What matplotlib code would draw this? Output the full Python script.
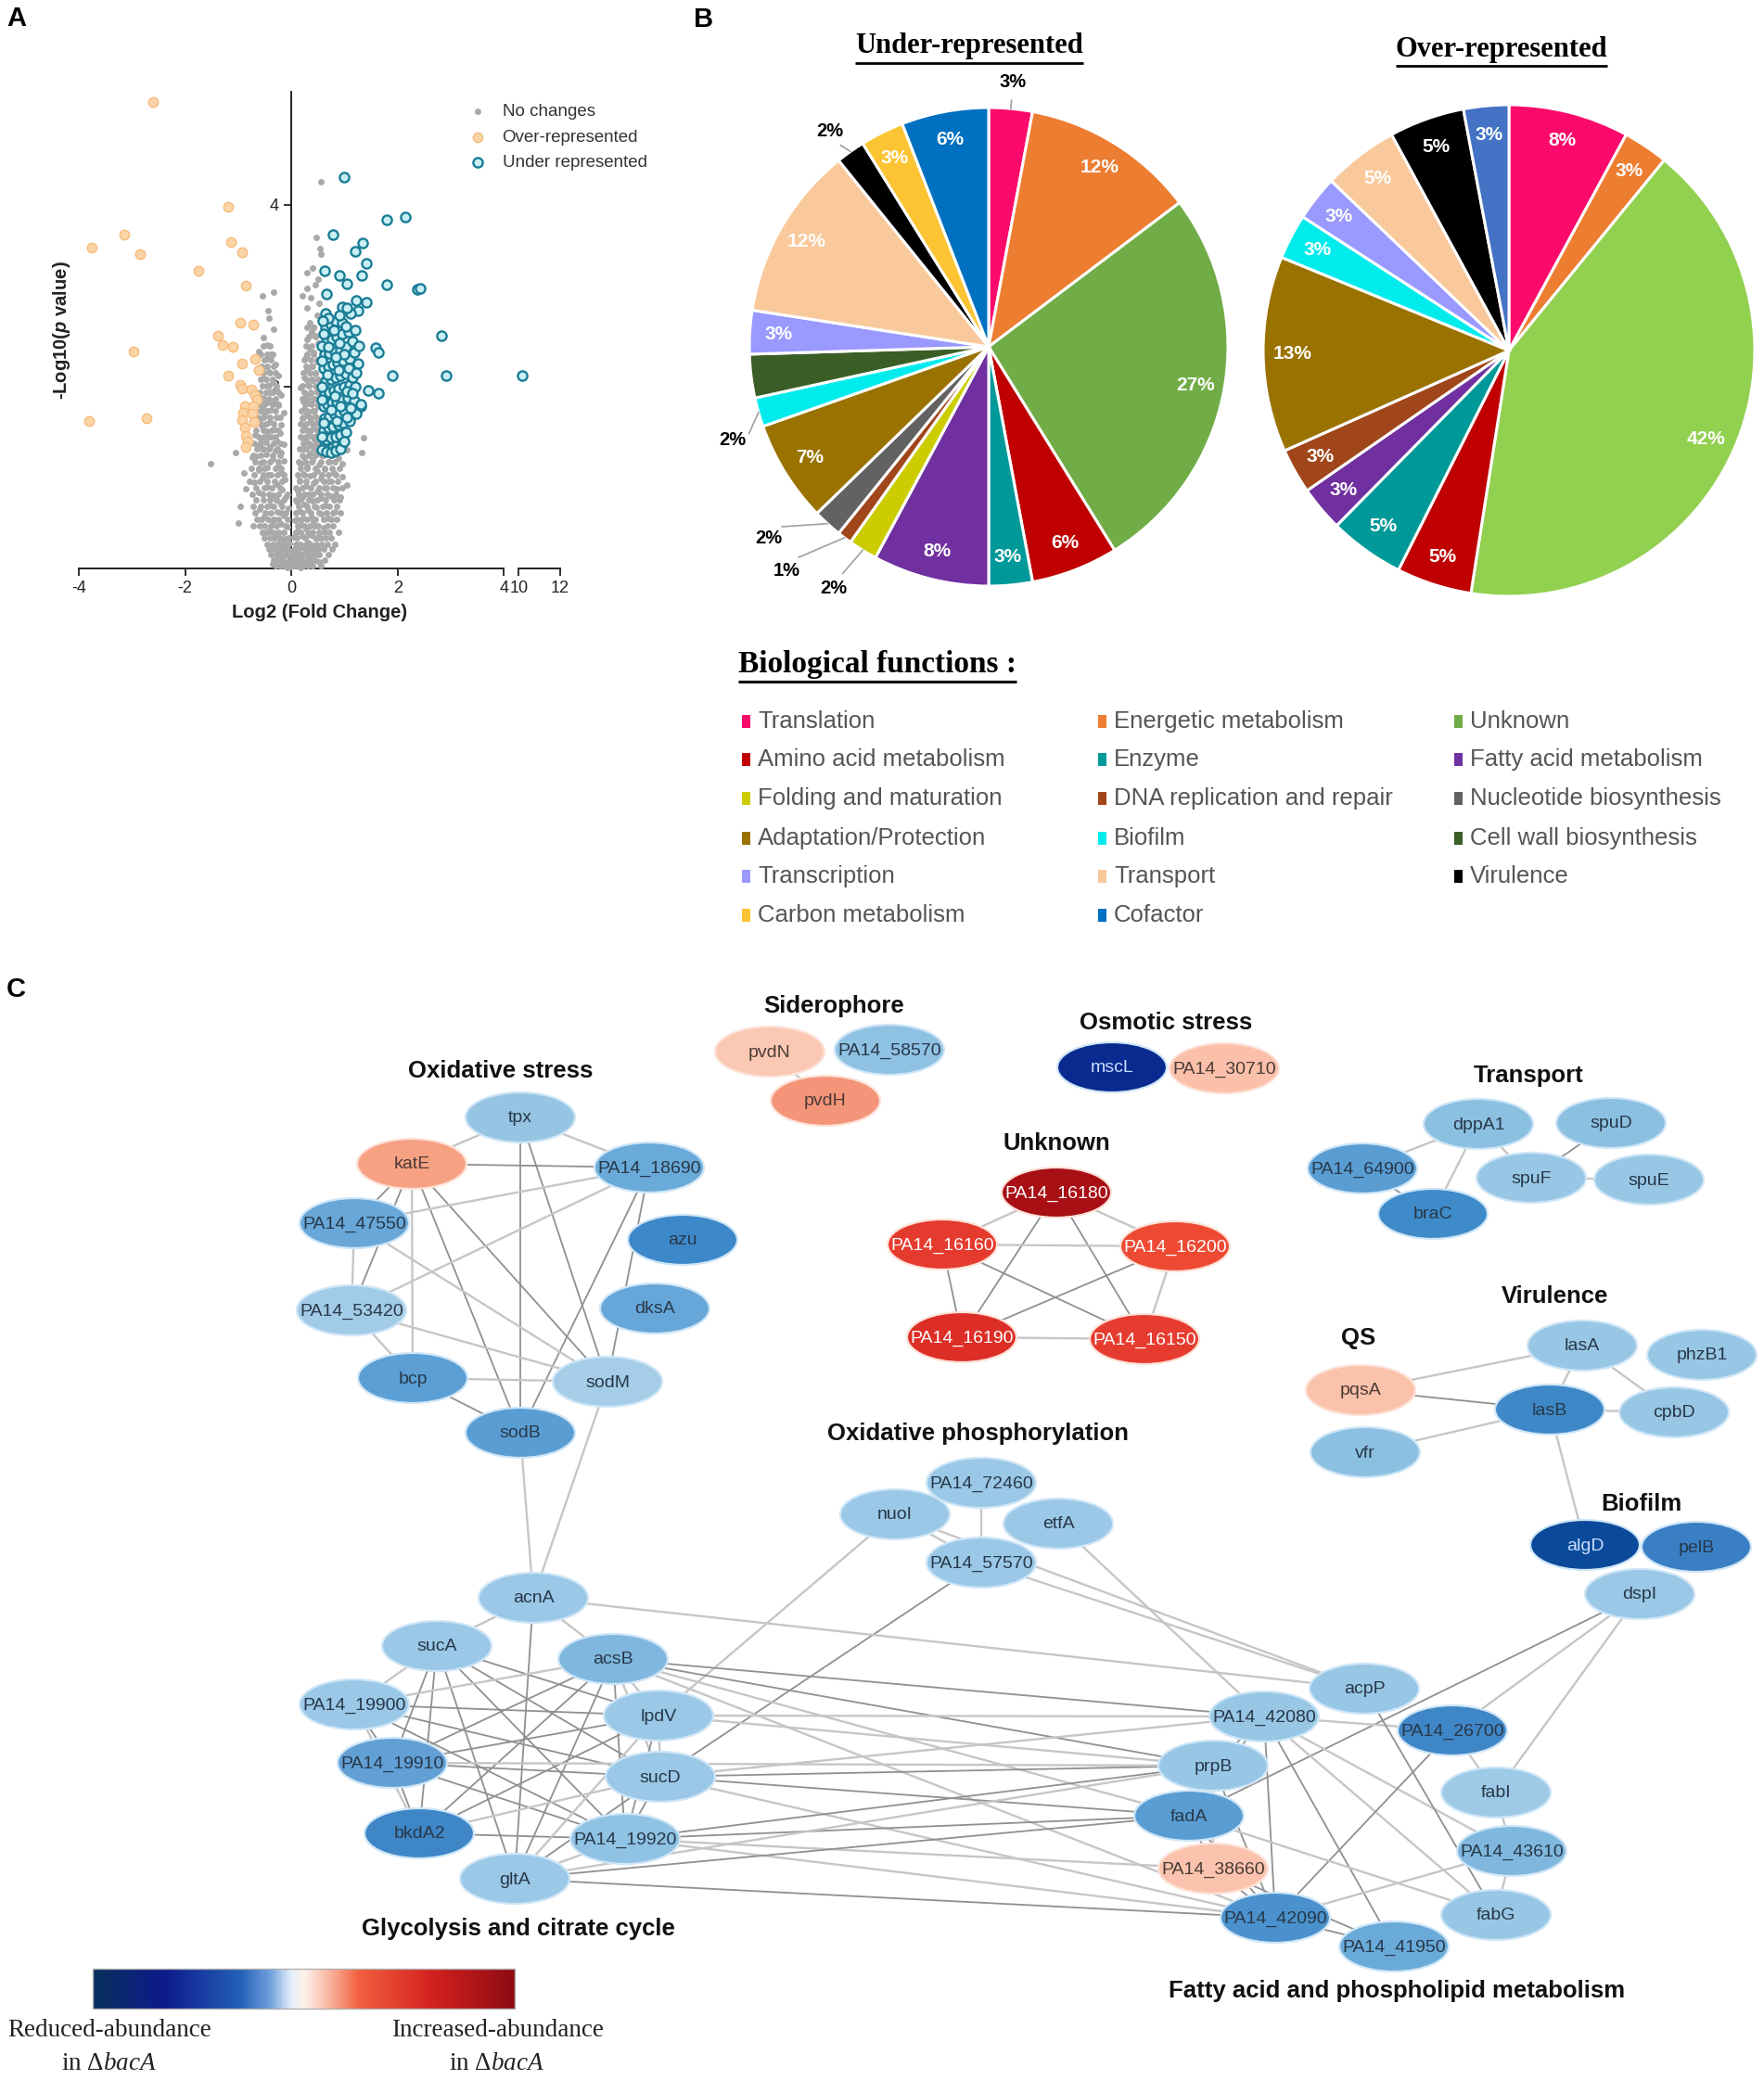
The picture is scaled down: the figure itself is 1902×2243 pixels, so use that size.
import numpy as np
import matplotlib
matplotlib.use('Agg')
import matplotlib.pyplot as plt
from matplotlib.patches import Ellipse, Rectangle
from matplotlib.colors import LinearSegmentedColormap
import matplotlib.colorbar as mcolorbar

plt.rcParams['font.family'] = ['Liberation Sans', 'DejaVu Sans']
plt.rcParams['mathtext.fontset'] = 'custom'
plt.rcParams['mathtext.it'] = 'Liberation Serif:italic'
plt.rcParams['mathtext.rm'] = 'Liberation Serif'
plt.rcParams['mathtext.sf'] = 'Liberation Sans:italic:bold'

# ---------------------------------------------------------------- data
# Panel A : volcano plot (log2 fold change, -log10 p)
gray_pts = [
    (-0.02,0.02),(0.04,0.03),(0.12,0.05),(-0.10,0.06),(0.20,0.04),(-0.18,0.09),(0.28,0.08),(0.07,0.11),
    (-0.06,0.14),(0.16,0.15),(-0.25,0.16),(0.34,0.13),(0.02,0.19),(-0.14,0.21),(0.24,0.22),(0.40,0.20),
    (-0.30,0.24),(0.10,0.26),(-0.04,0.28),(0.31,0.29),(0.47,0.18),(-0.36,0.05),(0.52,0.07),(0.18,0.01),
    (-0.22,0.30),(0.08,0.08),(-0.08,0.01),(0.26,0.17),(-0.12,0.26),(0.36,0.05),
    (-0.12,0.33),(0.05,0.35),(0.20,0.36),(0.36,0.37),(-0.28,0.39),(0.50,0.34),(-0.42,0.42),(0.12,0.42),
    (0.28,0.44),(-0.08,0.46),(0.44,0.47),(-0.20,0.49),(0.60,0.45),(-0.35,0.52),(0.07,0.53),(0.22,0.55),
    (0.38,0.56),(-0.50,0.57),(-0.15,0.58),(0.55,0.60),(0.70,0.55),(-0.27,0.62),(0.15,0.63),(0.31,0.64),
    (-0.60,0.65),(0.47,0.67),(-0.05,0.66),(-0.40,0.69),(0.64,0.69),(0.25,0.70),(-0.97,0.68),(-1.00,0.50),
    (0.82,0.62),(-0.72,0.47),(-0.32,0.34),(0.42,0.52),(-0.55,0.40),(0.18,0.48),
    (-0.22,0.72),(0.10,0.73),(0.40,0.74),(-0.52,0.75),(0.56,0.77),(-0.10,0.78),(0.20,0.79),(0.74,0.80),
    (-0.35,0.81),(0.33,0.82),(-0.62,0.84),(0.48,0.85),(0.12,0.86),(-0.18,0.87),(0.86,0.88),(0.62,0.89),
    (-0.45,0.90),(0.27,0.91),(-0.28,0.93),(0.42,0.94),(-0.70,0.95),(0.70,0.96),(0.15,0.97),(-0.12,0.98),
    (0.55,0.99),(-0.55,1.00),(0.95,1.01),(0.35,1.02),(-0.38,1.03),(0.22,1.04),(0.80,1.05),(-0.20,1.06),
    (0.48,1.07),(-0.62,1.08),(0.63,1.09),(1.05,0.92),(-0.85,0.88),(-0.90,1.05),(0.92,0.78),
    (-0.45,1.11),(0.30,1.12),(-0.25,1.13),(0.52,1.14),(0.18,1.15),(-0.58,1.16),(0.72,1.17),(-0.15,1.18),
    (0.40,1.19),(-0.35,1.20),(0.88,1.21),(0.25,1.22),(-0.66,1.23),(0.58,1.24),(-0.48,1.25),(0.35,1.26),
    (-0.20,1.27),(0.78,1.28),(-0.30,1.29),(0.45,1.30),(-0.55,1.31),(0.22,1.32),(0.65,1.33),(-0.40,1.34),
    (0.38,1.35),(-0.62,1.36),(-0.15,1.37),(0.52,1.38),(-0.48,1.39),(0.28,1.40),(-0.28,1.41),(0.44,1.42),
    (-0.58,1.43),(0.20,1.44),(-0.38,1.45),(0.35,1.46),(-0.68,1.47),(0.50,1.48),(-0.22,1.49),(1.33,1.27),
    (1.36,1.44),(-1.52,1.15),(-1.05,1.27),(-0.74,1.22),(1.05,1.30),(0.95,1.15),
    (-0.45,1.51),(0.30,1.52),(-0.32,1.53),(0.42,1.55),(-0.55,1.56),(0.24,1.57),(-0.20,1.58),(0.48,1.60),
    (-0.40,1.61),(0.36,1.62),(-0.60,1.63),(0.20,1.65),(-0.28,1.66),(0.45,1.67),(-0.50,1.69),(0.30,1.70),
    (-0.15,1.71),(0.40,1.73),(-0.38,1.74),(0.25,1.75),(-0.55,1.77),(0.50,1.78),(-0.25,1.79),(0.33,1.81),
    (-0.45,1.82),(0.22,1.84),(-0.33,1.85),(0.42,1.87),(-0.52,1.88),(0.28,1.90),(-0.20,1.91),(0.36,1.93),
    (-0.40,1.94),(0.48,1.96),(-0.28,1.97),(0.18,1.99),
    (-0.45,2.01),(0.32,2.02),(-0.35,2.05),(0.40,2.07),(-0.52,2.09),(0.25,2.10),(-0.25,2.12),(0.45,2.14),
    (-0.42,2.16),(0.30,2.18),(-0.55,2.20),(0.38,2.22),(-0.30,2.24),(0.48,2.27),(-0.48,2.30),(0.28,2.32),
    (-0.38,2.35),(0.42,2.38),(-0.62,2.39),(0.35,2.42),(-0.45,2.46),(0.50,2.48),(0.30,2.52),(0.45,2.56),
    (-0.52,2.54),(0.38,2.60),
    (-0.33,2.63),(0.42,2.65),(-0.42,2.75),(0.35,2.70),(0.48,2.78),(-0.44,2.83),(0.30,2.86),(0.52,2.92),
    (-0.33,3.04),(0.30,3.08),(0.45,3.12),(0.30,3.25),(0.40,3.30),(0.56,3.46),(0.54,3.52),(0.47,3.64),
    (0.56,4.25),(0.36,2.98),(0.50,3.18),(-0.55,3.00),(0.20,3.00),
]
# further rows of the dense grey cloud: (-log10 p, [log2 fold changes])
gray_rows = [
    (0.03, [-0.30,-0.21,-0.14,-0.07,0.01,0.09,0.16,0.23,0.31,0.40,0.55]),
    (0.09, [-0.34,-0.24,-0.16,-0.03,0.05,0.13,0.21,0.29,0.37,0.46,0.62]),
    (0.15, [-0.38,-0.29,-0.20,-0.11,0.02,0.10,0.19,0.27,0.35,0.44,0.53,0.70]),
    (0.21, [-0.42,-0.33,-0.23,-0.08,0.06,0.14,0.32,0.41,0.50,0.60,0.76]),
    (0.27, [-0.45,-0.36,-0.27,-0.17,0.08,0.18,0.27,0.37,0.47,0.57,0.68,0.82]),
    (0.34, [-0.50,-0.40,-0.31,-0.21,-0.05,0.10,0.26,0.45,0.55,0.65,0.75]),
    (0.40, [-0.55,-0.46,-0.35,-0.24,-0.15,0.08,0.17,0.31,0.40,0.52,0.62,0.72,0.88]),
    (0.47, [-0.60,-0.50,-0.39,-0.29,-0.11,0.12,0.24,0.35,0.50,0.68,0.79]),
    (0.54, [-0.64,-0.56,-0.44,-0.33,-0.24,-0.08,0.10,0.19,0.30,0.46,0.60,0.75,0.85]),
    (0.61, [-0.68,-0.49,-0.38,-0.20,-0.10,0.08,0.21,0.37,0.52,0.66,0.78,0.92]),
    (0.68, [-0.72,-0.58,-0.46,-0.33,-0.17,0.13,0.29,0.44,0.59,0.71,0.86]),
    (0.75, [-0.66,-0.40,-0.28,-0.14,0.08,0.17,0.33,0.48,0.64,0.80,0.90]),
    (0.82, [-0.74,-0.55,-0.42,-0.25,-0.08,0.14,0.24,0.40,0.56,0.68,0.83]),
    (0.89, [-0.66,-0.51,-0.37,-0.22,0.09,0.21,0.36,0.52,0.66,0.78,0.95]),
    (0.96, [-0.78,-0.60,-0.46,-0.32,-0.17,0.15,0.28,0.45,0.60,0.74,0.87]),
    (1.03, [-0.70,-0.53,-0.44,-0.26,-0.14,0.12,0.25,0.41,0.57,0.70,0.84]),
    (1.10, [-0.75,-0.62,-0.50,-0.30,-0.19,0.18,0.30,0.46,0.62,0.77,0.91]),
    (1.17, [-0.68,-0.53,-0.41,-0.25,0.14,0.26,0.38,0.55,0.69,0.82]),
    (1.24, [-0.72,-0.58,-0.36,-0.22,0.20,0.33,0.46,0.61,0.74]),
    (1.31, [-0.64,-0.52,-0.43,-0.26,0.16,0.28,0.42,0.55,0.68]),
    (1.38, [-0.70,-0.57,-0.33,-0.21,0.22,0.33,0.47,0.60]),
    (1.45, [-0.62,-0.50,-0.44,-0.30,0.18,0.27,0.42,0.55]),
    (1.52, [-0.66,-0.53,-0.37,-0.24,0.21,0.36,0.48]),
    (1.59, [-0.58,-0.47,-0.33,0.17,0.27,0.40,0.53]),
    (1.66, [-0.63,-0.52,-0.41,-0.22,0.23,0.35,0.47]),
    (1.73, [-0.57,-0.46,-0.30,0.19,0.30,0.43]),
    (1.80, [-0.61,-0.50,-0.36,-0.24,0.26,0.38,0.50]),
    (1.87, [-0.55,-0.43,-0.30,0.20,0.31,0.44]),
    (1.94, [-0.60,-0.48,-0.35,-0.25,0.24,0.36,0.48]),
    (2.01, [-0.54,-0.42,-0.29,0.21,0.33,0.45]),
    (2.08, [-0.58,-0.47,-0.36,0.27,0.39,0.50]),
    (2.15, [-0.52,-0.40,-0.30,0.22,0.34,0.46]),
    (2.22, [-0.56,-0.45,-0.34,0.28,0.40]),
    (2.29, [-0.50,-0.39,0.24,0.36,0.48]),
    (2.36, [-0.58,-0.46,-0.35,0.30,0.42]),
    (2.45, [-0.52,-0.40,0.27,0.38]),
    (2.55, [0.33,0.45]),
    (2.65, [0.29,0.41]),
]
over_pts = [
    (-2.60,5.13),(-1.19,3.98),(-3.15,3.67),(-3.75,3.53),(-2.84,3.46),(-1.13,3.59),(-0.92,3.48),(-1.75,3.27),
    (-0.85,3.11),(-0.97,2.70),(-0.72,2.68),(-1.39,2.56),(-1.30,2.46),(-1.11,2.44),(-2.97,2.39),(-0.68,2.30),
    (-0.92,2.25),(-0.62,2.18),(-1.19,2.12),(-0.97,2.02),(-0.93,1.98),(-0.76,1.97),(-0.68,1.91),(-0.65,1.86),
    (-0.88,1.78),(-0.72,1.78),(-0.91,1.71),(-0.73,1.70),(-0.92,1.63),(-0.70,1.61),(-0.87,1.55),(-0.85,1.46),
    (-0.82,1.40),(-0.85,1.34),(-3.80,1.62),(-2.73,1.65),
]
under_pts = [
    (0.99,4.30),(2.14,3.86),(1.80,3.83),(0.79,3.67),(1.34,3.58),(1.20,3.49),(1.41,3.35),(0.63,3.27),
    (0.91,3.22),(1.33,3.22),(1.04,3.13),(1.80,3.12),(2.37,3.07),(2.43,3.08),(0.66,3.02),(1.22,2.95),
    (1.41,2.93),(0.95,2.87),(1.26,2.83),(2.83,2.56),(1.59,2.43),(1.63,2.38),(1.90,2.12),(2.91,2.12),
    (10.17,2.12),(1.63,1.93),(1.44,1.96),(1.31,1.78),
    (0.62,1.35),(0.70,1.32),(0.78,1.34),(0.86,1.36),(0.95,1.38),(0.66,1.42),(0.74,1.44),(0.83,1.45),
    (0.92,1.47),(1.02,1.50),(0.60,1.52),(0.69,1.55),(0.78,1.56),(0.88,1.58),(0.97,1.60),(1.10,1.62),
    (0.63,1.65),(0.72,1.67),(0.81,1.69),(0.90,1.71),(1.00,1.73),(0.60,1.78),(0.68,1.80),(0.77,1.82),
    (0.86,1.84),(0.95,1.86),(1.06,1.88),(1.18,1.85),(0.62,1.92),(0.71,1.94),(0.80,1.96),(0.89,1.98),
    (0.99,2.00),(1.10,2.02),(0.65,2.06),(0.74,2.08),(0.84,2.10),(0.93,2.12),(1.03,2.14),(1.15,2.10),
    (0.60,2.20),(0.69,2.22),(0.78,2.24),(0.87,2.26),(0.97,2.28),(1.10,2.30),(0.63,2.35),(0.72,2.37),
    (0.82,2.39),(0.92,2.41),(1.02,2.44),(0.66,2.50),(0.76,2.52),(0.86,2.55),(0.96,2.58),(1.08,2.60),
    (0.64,2.65),(0.74,2.68),(0.84,2.72),(0.96,2.70),(0.65,2.80),(1.12,2.80),(1.20,2.00),(1.25,2.25),
    (1.30,1.80),(1.22,1.70),(0.58,1.45),(0.58,2.00),(0.58,2.45),(1.00,2.35),(1.15,2.50),
    (0.57,1.30),(0.66,1.28),(0.75,1.27),(0.84,1.29),(0.92,1.31),(1.00,1.40),(0.61,1.60),(0.85,1.62),
    (1.05,1.66),(0.75,1.74),(0.93,1.78),(1.12,1.76),(0.57,1.86),(0.82,1.90),(1.04,1.95),(1.15,1.93),
    (0.67,2.13),(0.88,2.18),(1.08,2.20),(1.22,2.15),(0.58,2.28),(0.83,2.32),(1.18,2.38),(0.70,2.44),
    (0.90,2.48),(1.27,2.45),(0.61,2.58),(0.80,2.62),(1.02,2.66),(1.20,2.62),(0.70,2.75),(0.90,2.78),
    (1.05,2.86),(0.59,2.72),
]
x_ticks = [-4, -2, 0, 2, 4, 10, 12]
x_ticklabels = ['-4', '-2', '0', '2', '4', '10', '12']
y_ticks = [2, 4]

# Panel B : pies
categories = ['Translation', 'Energetic metabolism', 'Unknown', 'Amino acid metabolism', 'Enzyme',
              'Fatty acid metabolism', 'Folding and maturation', 'DNA replication and repair',
              'Nucleotide biosynthesis', 'Adaptation/Protection', 'Biofilm', 'Cell wall biosynthesis',
              'Transcription', 'Transport', 'Virulence', 'Carbon metabolism', 'Cofactor']
cat_colors = ['#fb0a6b', '#ed7d31', '#70ad47', '#c00000', '#00999a', '#7030a0', '#cccc00', '#a0461a',
              '#626262', '#9a7200', '#00ecec', '#3a5e25', '#9999ff', '#f9c99c', '#000000', '#fcc432', '#0070c0']
under_vals = [3, 12, 27, 6, 3, 8, 2, 1, 2, 7, 2, 3, 3, 12, 2, 3, 6]
under_labels = ['3%', '12%', '27%', '6%', '3%', '8%', '2%', '1%', '2%', '7%', '2%', '', '3%', '12%', '2%', '3%', '6%']
over_cats = ['Translation', 'Energetic metabolism', 'Unknown', 'Amino acid metabolism', 'Enzyme',
             'Fatty acid metabolism', 'DNA replication and repair', 'Adaptation/Protection', 'Biofilm',
             'Transcription', 'Transport', 'Virulence', 'Cofactor']
over_vals = [8, 3, 42, 5, 5, 3, 3, 13, 3, 3, 5, 5, 3]
over_labels = ['8%', '3%', '42%', '5%', '5%', '3%', '3%', '13%', '3%', '3%', '5%', '5%', '3%']
over_color_override = {'Unknown': '#92d050', 'Cofactor': '#4472c4'}

# Panel C : network
node_colors = {
    'tpx': '#96c5e3', 'katE': '#f7a183', 'PA14_18690': '#6aaad9', 'PA14_47550': '#68a7d8', 'azu': '#3d88c8',
    'PA14_53420': '#a2cbe7', 'dksA': '#66a6d8', 'bcp': '#5b9fd5', 'sodM': '#a5cde8', 'sodB': '#5a9dd3',
    'pvdN': '#fbc8b4', 'PA14_58570': '#8fc1e2', 'pvdH': '#f4957a',
    'mscL': '#0a2a90', 'PA14_30710': '#fbc0a9',
    'PA14_16180': '#a81016', 'PA14_16160': '#e53a2e', 'PA14_16200': '#ee4a33', 'PA14_16190': '#dc2e26',
    'PA14_16150': '#e63c2f',
    'dppA1': '#8cc0e1', 'spuD': '#8cc0e1', 'PA14_64900': '#5a9dd3', 'spuF': '#98c7e5', 'spuE': '#98c7e5',
    'braC': '#3f8bca',
    'lasA': '#98c7e5', 'phzB1': '#98c7e5', 'pqsA': '#fbc2ab', 'lasB': '#3f88c8', 'cpbD': '#98c7e5',
    'vfr': '#8cc0e1',
    'PA14_72460': '#9ac8e6', 'nuoI': '#9ac8e6', 'etfA': '#9ac8e6', 'PA14_57570': '#9ac8e6',
    'algD': '#0b4a9a', 'pelB': '#3a7fc4', 'dspI': '#9ac8e6',
    'acnA': '#9ac8e6', 'sucA': '#9ac8e6', 'acsB': '#80b7de', 'PA14_19900': '#9ac8e6', 'lpdV': '#9ac8e6',
    'PA14_19910': '#629fd4', 'sucD': '#9ac8e6', 'bkdA2': '#3e86c6', 'PA14_19920': '#8fc2e3', 'gltA': '#9ac8e6',
    'acpP': '#98c7e5', 'PA14_42080': '#98c7e5', 'PA14_26700': '#3f86c6', 'prpB': '#98c7e5', 'fabI': '#9ecae7',
    'fadA': '#5a9dd3', 'PA14_43610': '#80b7de', 'PA14_38660': '#fbc3ad', 'fabG': '#98c7e5',
    'PA14_42090': '#4a91cd', 'PA14_41950': '#6aaad9',
}
edges = [
    ('tpx','katE',1),('tpx','PA14_18690',1),('tpx','sodB',2),('tpx','sodM',2),
    ('katE','PA14_18690',2),('katE','PA14_47550',2),('katE','PA14_53420',2),('katE','bcp',1),
    ('katE','sodB',2),('katE','sodM',2),
    ('PA14_18690','PA14_47550',1),('PA14_18690','PA14_53420',1),('PA14_18690','sodB',2),('PA14_18690','sodM',2),
    ('PA14_47550','PA14_53420',1),('PA14_47550','sodM',1),('PA14_53420','bcp',1),('PA14_53420','sodM',1),
    ('bcp','sodM',1),('bcp','sodB',2),('sodB','acnA',1),('sodM','acnA',1),
    ('pvdN','pvdH',1),
    ('PA14_16180','PA14_16160',1),('PA14_16180','PA14_16200',1),('PA14_16180','PA14_16190',2),
    ('PA14_16180','PA14_16150',2),('PA14_16160','PA14_16200',1),('PA14_16160','PA14_16190',2),
    ('PA14_16160','PA14_16150',2),('PA14_16200','PA14_16190',2),('PA14_16200','PA14_16150',1),
    ('PA14_16190','PA14_16150',1),
    ('dppA1','PA14_64900',1),('dppA1','braC',1),('dppA1','spuF',1),('spuD','spuF',2),('spuF','spuE',1),
    ('PA14_64900','braC',2),
    ('pqsA','lasA',1),('pqsA','lasB',2),('vfr','lasB',1),('lasA','lasB',1),('lasA','cpbD',1),
    ('lasB','cpbD',1),('lasB','algD',1),
    ('dspI','PA14_26700',1),('dspI','fabI',1),('dspI','fadA',2),
    ('PA14_72460','PA14_57570',1),('nuoI','PA14_57570',1),('nuoI','lpdV',1),('PA14_57570','sucD',2),
    ('nuoI','acpP',1),('PA14_57570','acpP',1),('etfA','PA14_42080',1),('acnA','acpP',1),
    ('acnA','sucA',1),('acnA','acsB',1),('acnA','gltA',2),
    ('sucA','PA14_19900',1),('sucA','PA14_19910',2),('sucA','bkdA2',2),('sucA','gltA',2),('sucA','lpdV',2),
    ('sucA','sucD',2),('sucA','PA14_19920',2),
    ('acsB','PA14_19900',1),('acsB','PA14_19910',2),('acsB','bkdA2',2),('acsB','lpdV',1),('acsB','sucD',1),
    ('acsB','PA14_19920',2),('acsB','gltA',2),
    ('PA14_19900','PA14_19910',2),('PA14_19900','lpdV',2),('PA14_19900','sucD',2),('PA14_19900','PA14_19920',2),
    ('PA14_19900','bkdA2',1),('PA14_19910','bkdA2',2),('PA14_19910','lpdV',2),('PA14_19910','sucD',2),
    ('PA14_19910','PA14_19920',2),('bkdA2','PA14_19920',2),('bkdA2','lpdV',2),('bkdA2','sucD',1),
    ('lpdV','sucD',1),('lpdV','PA14_19920',2),('lpdV','gltA',1),('sucD','PA14_19920',2),('sucD','gltA',2),
    ('PA14_19920','gltA',1),
    ('acsB','PA14_42080',2),('acsB','prpB',2),('acsB','fadA',1),('acsB','PA14_42090',1),
    ('lpdV','PA14_42080',1),('lpdV','prpB',1),
    ('sucD','PA14_42080',1),('sucD','prpB',2),('sucD','fadA',2),('sucD','PA14_42090',1),
    ('PA14_19920','prpB',2),('PA14_19920','fadA',2),('PA14_19920','PA14_42090',1),('PA14_19920','PA14_38660',1),
    ('gltA','fadA',2),('gltA','PA14_42090',2),('gltA','prpB',1),('PA14_19910','prpB',1),
    ('PA14_42080','PA14_26700',1),('PA14_42080','prpB',2),('PA14_42080','fadA',2),('PA14_42080','PA14_42090',2),
    ('PA14_42080','PA14_41950',2),('PA14_42080','PA14_43610',1),('PA14_42080','fabG',1),('acpP','fabG',2),
    ('PA14_26700','fabI',1),('PA14_26700','PA14_42090',2),('fabI','PA14_43610',1),('PA14_43610','fabG',1),
    ('PA14_43610','PA14_42090',1),('prpB','fadA',1),('prpB','PA14_42090',2),('fadA','PA14_38660',2),
    ('fadA','PA14_42090',2),('fadA','fabG',1),('PA14_38660','PA14_42090',2),('PA14_38660','PA14_41950',2),
    ('PA14_42090','PA14_41950',2),('prpB','PA14_38660',1),
]
cbar_stops = [(0.0, '#082f5c'), (0.17, '#0d1a8c'), (0.35, '#2460b8'), (0.42, '#6fa0dc'), (0.47, '#e4eef8'),
              (0.50, '#fff3ec'), (0.56, '#f9b7a0'), (0.63, '#f2603f'), (0.80, '#d4221f'), (1.0, '#8e0a12')]

# ---------------------------------------------------------------- layout
W, H = 1902, 2243
fig = plt.figure(figsize=(W / 100, H / 100), dpi=100)
bg = fig.add_axes([0, 0, 1, 1])
bg.set_xlim(0, W)
bg.set_ylim(H, 0)
bg.axis('off')


def fax(x0, y0, x1, y1):
    a = fig.add_axes([x0 / W, 1 - y1 / H, (x1 - x0) / W, (y1 - y0) / H])
    a.patch.set_alpha(0)
    return a


for s, (px, py) in zip('ABC', [(18, 20), (759, 21), (17, 1067)]):
    bg.text(px, py, s, fontsize=21, fontweight='bold', ha='center', va='center')

# ---------------------------------------------------------------- Panel A
GAP, K = 0.278, 0.391


def fwd(x):
    x = np.asarray(x, float)
    return np.where(x <= 4, x, np.where(x >= 10, 4 + GAP + (x - 10) * K, 4 + (x - 4) / 6 * GAP))


def inv(u):
    u = np.asarray(u, float)
    return np.where(u <= 4, u, np.where(u >= 4 + GAP, 10 + (u - 4 - GAP) / K, 4 + (u - 4) / GAP * 6))


axA = fax(85, 99, 604, 613)
axA.set_xscale('function', functions=(fwd, inv))
gx = [p[0] for p in gray_pts] + [x for y, xs in gray_rows for x in xs]
gy = [p[1] for p in gray_pts] + [y for y, xs in gray_rows for x in xs]
ox, oy = zip(*over_pts)
ux, uy = zip(*under_pts)
axA.scatter(gx, gy, s=25, c='#a9a9a9', linewidths=0, label='No changes', zorder=2, clip_on=False)
axA.scatter(ox, oy, s=56, facecolor='#fbd4a6', edgecolor='#f5bb7e', linewidths=1.0,
            label='Over-represented', zorder=3, clip_on=False)
axA.scatter(ux, uy, s=54, facecolor='#c9eef4', edgecolor='#1a7d96', linewidths=1.7,
            label='Under represented', zorder=4, clip_on=False)
axA.set_xlim(-4, 12)
axA.set_ylim(0, 5.24)
for sp in ['top', 'right', 'bottom']:
    axA.spines[sp].set_visible(False)
axA.spines['left'].set_position(('data', 0))
axA.spines['left'].set_linewidth(1.4)
axA.spines['left'].set_color('#222222')
axA.spines['left'].set_zorder(1)
axA.plot([-4, 4], [0, 0], color='#222222', lw=1.4, clip_on=False, zorder=1)
axA.plot([10, 12], [0, 0], color='#222222', lw=1.4, clip_on=False, zorder=1)
axA.set_xticks(x_ticks)
axA.set_xticklabels(x_ticklabels)
axA.set_yticks(y_ticks)
axA.set_yticklabels([str(v) for v in y_ticks])
axA.tick_params(axis='both', direction='out', length=6, width=1.3, color='#222222',
                labelsize=13, labelcolor='#222222')
axA.minorticks_off()
leg = axA.legend(loc='upper left', bbox_to_anchor=(506 / W, 1 - 112 / H), bbox_transform=fig.transFigure,
                 frameon=False, fontsize=13.5, handlelength=1.0, handletextpad=0.9, labelspacing=0.55,
                 borderpad=0, borderaxespad=0)
for t in leg.get_texts():
    t.set_color('#333333')
bg.text(345, 661, 'Log2 (Fold Change)', fontsize=14.5, fontweight='bold', ha='center', va='center', color='#222')
bg.text(66, 356, r'-Log10($\mathsf{p}$ value)', fontsize=14.5, fontweight='bold', rotation=90,
        ha='center', va='center', color='#222')

# ---------------------------------------------------------------- Panel B pies
col_of = dict(zip(categories, cat_colors))
renderer = fig.canvas.get_renderer()


def underlined(x, y, s, size, family, lw=2.0, off=3):
    t = bg.text(x, y, s, fontsize=size, fontweight='bold', ha='center', va='center', family=family)
    bb = t.get_window_extent(renderer=renderer).transformed(bg.transData.inverted())
    x0, x1 = sorted([bb.x0, bb.x1])
    yb = max(bb.y0, bb.y1)
    bg.plot([x0, x1], [yb + off, yb + off], color='black', lw=lw, solid_capstyle='butt')
    return t


underlined(1045, 50, 'Under-represented', 22, ['Liberation Serif'])
underlined(1619, 53, 'Over-represented', 22, ['Liberation Serif'])


def draw_pie(ax, vals, colors, labels, outside):
    wedges, _ = ax.pie(vals, colors=colors, startangle=90, counterclock=False, radius=1,
                       wedgeprops=dict(edgecolor='white', linewidth=2.2))
    ax.set_xlim(-1, 1)
    ax.set_ylim(-1, 1)
    ax.set_aspect('equal')
    for i, w in enumerate(wedges):
        if not labels[i]:
            continue
        mid = np.deg2rad((w.theta1 + w.theta2) / 2)
        if i in outside:
            dang, r = outside[i]
            a = mid + np.deg2rad(dang)
            tx, ty = r * np.cos(a), r * np.sin(a)
            ax.text(tx, ty, labels[i], fontsize=14.5, fontweight='bold', color='black',
                    ha='center', va='center')
            sx, sy = (r - 0.075) * np.cos(a), (r - 0.075) * np.sin(a)
            ex, ey = 1.0 * np.cos(mid), 1.0 * np.sin(mid)
            ax.plot([sx, ex], [sy, ey], color='#a0a0a0', lw=1.2, clip_on=False)
        else:
            ax.text(0.88 * np.cos(mid), 0.88 * np.sin(mid), labels[i], fontsize=15, fontweight='bold',
                    color='white', ha='center', va='center')


axU = fax(1066 - 258, 374 - 258, 1066 + 258, 374 + 258)
draw_pie(axU, under_vals, cat_colors, under_labels,
         {0: (0, 1.11), 6: (-1, 1.2), 7: (-5, 1.26), 8: (-6.6, 1.22), 10: (4, 1.14), 14: (1, 1.12)})
axO = fax(1627 - 265, 378 - 265, 1627 + 265, 378 + 265)
draw_pie(axO, over_vals, [over_color_override.get(c, col_of[c]) for c in over_cats], over_labels, {})

t = bg.text(796, 716, 'Biological functions :', fontsize=24, fontweight='bold', ha='left', va='center',
            family=['Liberation Serif'])
bb = t.get_window_extent(renderer=renderer).transformed(bg.transData.inverted())
bg.plot([min(bb.x0, bb.x1), max(bb.x0, bb.x1)], [735, 735], color='black', lw=2.2, solid_capstyle='butt')
col_x = [804, 1188, 1572]
row_y = [778, 819, 861, 904, 945, 987]
for i, (name, c) in enumerate(zip(categories, cat_colors)):
    r, k = divmod(i, 3)
    x, y = col_x[k], row_y[r]
    bg.add_patch(Rectangle((x - 4.5, y - 7), 9, 14, facecolor=c, edgecolor='none'))
    bg.text(x + 13, y, name, fontsize=18.5, color='#555555', ha='left', va='center')

# ---------------------------------------------------------------- Panel C network
pos = {
    'tpx': (561, 1205), 'katE': (444, 1255), 'PA14_18690': (700, 1259), 'PA14_47550': (382, 1319),
    'azu': (736, 1337), 'PA14_53420': (379, 1413), 'dksA': (706, 1411), 'bcp': (445, 1486),
    'sodM': (655, 1490), 'sodB': (561, 1545),
    'pvdN': (830, 1134), 'PA14_58570': (959, 1132), 'pvdH': (890, 1187),
    'mscL': (1199, 1151), 'PA14_30710': (1320, 1152),
    'PA14_16180': (1139, 1286), 'PA14_16160': (1016, 1342), 'PA14_16200': (1267, 1344),
    'PA14_16190': (1037, 1442), 'PA14_16150': (1234, 1444),
    'dppA1': (1594, 1212), 'spuD': (1737, 1211), 'PA14_64900': (1469, 1260), 'spuF': (1651, 1270),
    'spuE': (1778, 1272), 'braC': (1545, 1309),
    'lasA': (1706, 1451), 'phzB1': (1835, 1461), 'pqsA': (1467, 1499), 'lasB': (1671, 1520),
    'cpbD': (1805, 1523), 'vfr': (1472, 1566),
    'PA14_72460': (1058, 1599), 'nuoI': (965, 1633), 'etfA': (1141, 1643), 'PA14_57570': (1058, 1685),
    'algD': (1709, 1666), 'pelB': (1829, 1668), 'dspI': (1768, 1719),
    'acnA': (575, 1723), 'sucA': (471, 1775), 'acsB': (661, 1789), 'PA14_19900': (382, 1838),
    'lpdV': (710, 1850), 'PA14_19910': (423, 1901), 'sucD': (712, 1916), 'bkdA2': (452, 1977),
    'PA14_19920': (674, 1983), 'gltA': (555, 2026),
    'acpP': (1471, 1821), 'PA14_42080': (1363, 1851), 'PA14_26700': (1566, 1866), 'prpB': (1308, 1904),
    'fabI': (1613, 1933), 'fadA': (1282, 1958), 'PA14_43610': (1630, 1996), 'PA14_38660': (1308, 2015),
    'fabG': (1613, 2065), 'PA14_42090': (1375, 2068), 'PA14_41950': (1503, 2099),
}
edge_style = {1: dict(color='#c6c6c6', lw=1.7), 2: dict(color='#909090', lw=1.3)}
for a, b, wgt in edges:
    (x1, y1), (x2, y2) = pos[a], pos[b]
    bg.plot([x1, x2], [y1, y2], zorder=1, solid_capstyle='round', **edge_style[wgt])

light_text = {'PA14_16180', 'PA14_16160', 'PA14_16200', 'PA14_16190', 'PA14_16150'}
warm = {'katE', 'pvdH', 'pvdN', 'PA14_30710', 'pqsA', 'PA14_38660'}
for name, (x, y) in pos.items():
    c = node_colors[name]
    is_red = name in light_text or name in warm
    ec = '#fde2d8' if is_red else '#cfe6f7'
    bg.add_patch(Ellipse((x, y), 118, 54, facecolor=c, edgecolor=ec, lw=1.6, zorder=3))
    if name in light_text:
        tc = 'white'
    elif name in ('mscL', 'algD'):
        tc = '#c9dcff'
    elif name in warm:
        tc = '#4a3a36'
    else:
        tc = '#27384a'
    bg.text(x, y + 1, name, fontsize=14, color=tc, ha='center', va='center', zorder=4)

titles = [('Siderophore', 899, 1085), ('Osmotic stress', 1257, 1103), ('Oxidative stress', 540, 1155),
          ('Transport', 1648, 1160), ('Unknown', 1139, 1233), ('Virulence', 1677, 1398), ('QS', 1465, 1443),
          ('Oxidative phosphorylation', 1054, 1546), ('Biofilm', 1770, 1622),
          ('Glycolysis and citrate cycle', 559, 2080), ('Fatty acid and phospholipid metabolism', 1506, 2147)]
for s, x, y in titles:
    bg.text(x, y, s, fontsize=18.5, fontweight='bold', ha='center', va='center', color='#111111')

cmap = LinearSegmentedColormap.from_list('abund', cbar_stops)
cax = fax(100, 2123, 555, 2166)
cb = mcolorbar.ColorbarBase(cax, cmap=cmap, orientation='horizontal')
cb.set_ticks([])
cb.outline.set_edgecolor('#b0b0b0')
cb.outline.set_linewidth(1)
for x, s in [(118, 'Reduced-abundance'), (536, 'Increased-abundance')]:
    bg.text(x, 2190, s, fontsize=19.5, family=['Liberation Serif'], ha='center', va='center', color='#222')
    bg.text(x, 2225, r'in $\mathit{ΔbacA}$', fontsize=19.5, family=['Liberation Serif'],
            ha='center', va='center', color='#222')

fig.savefig('out.png', dpi=100)
